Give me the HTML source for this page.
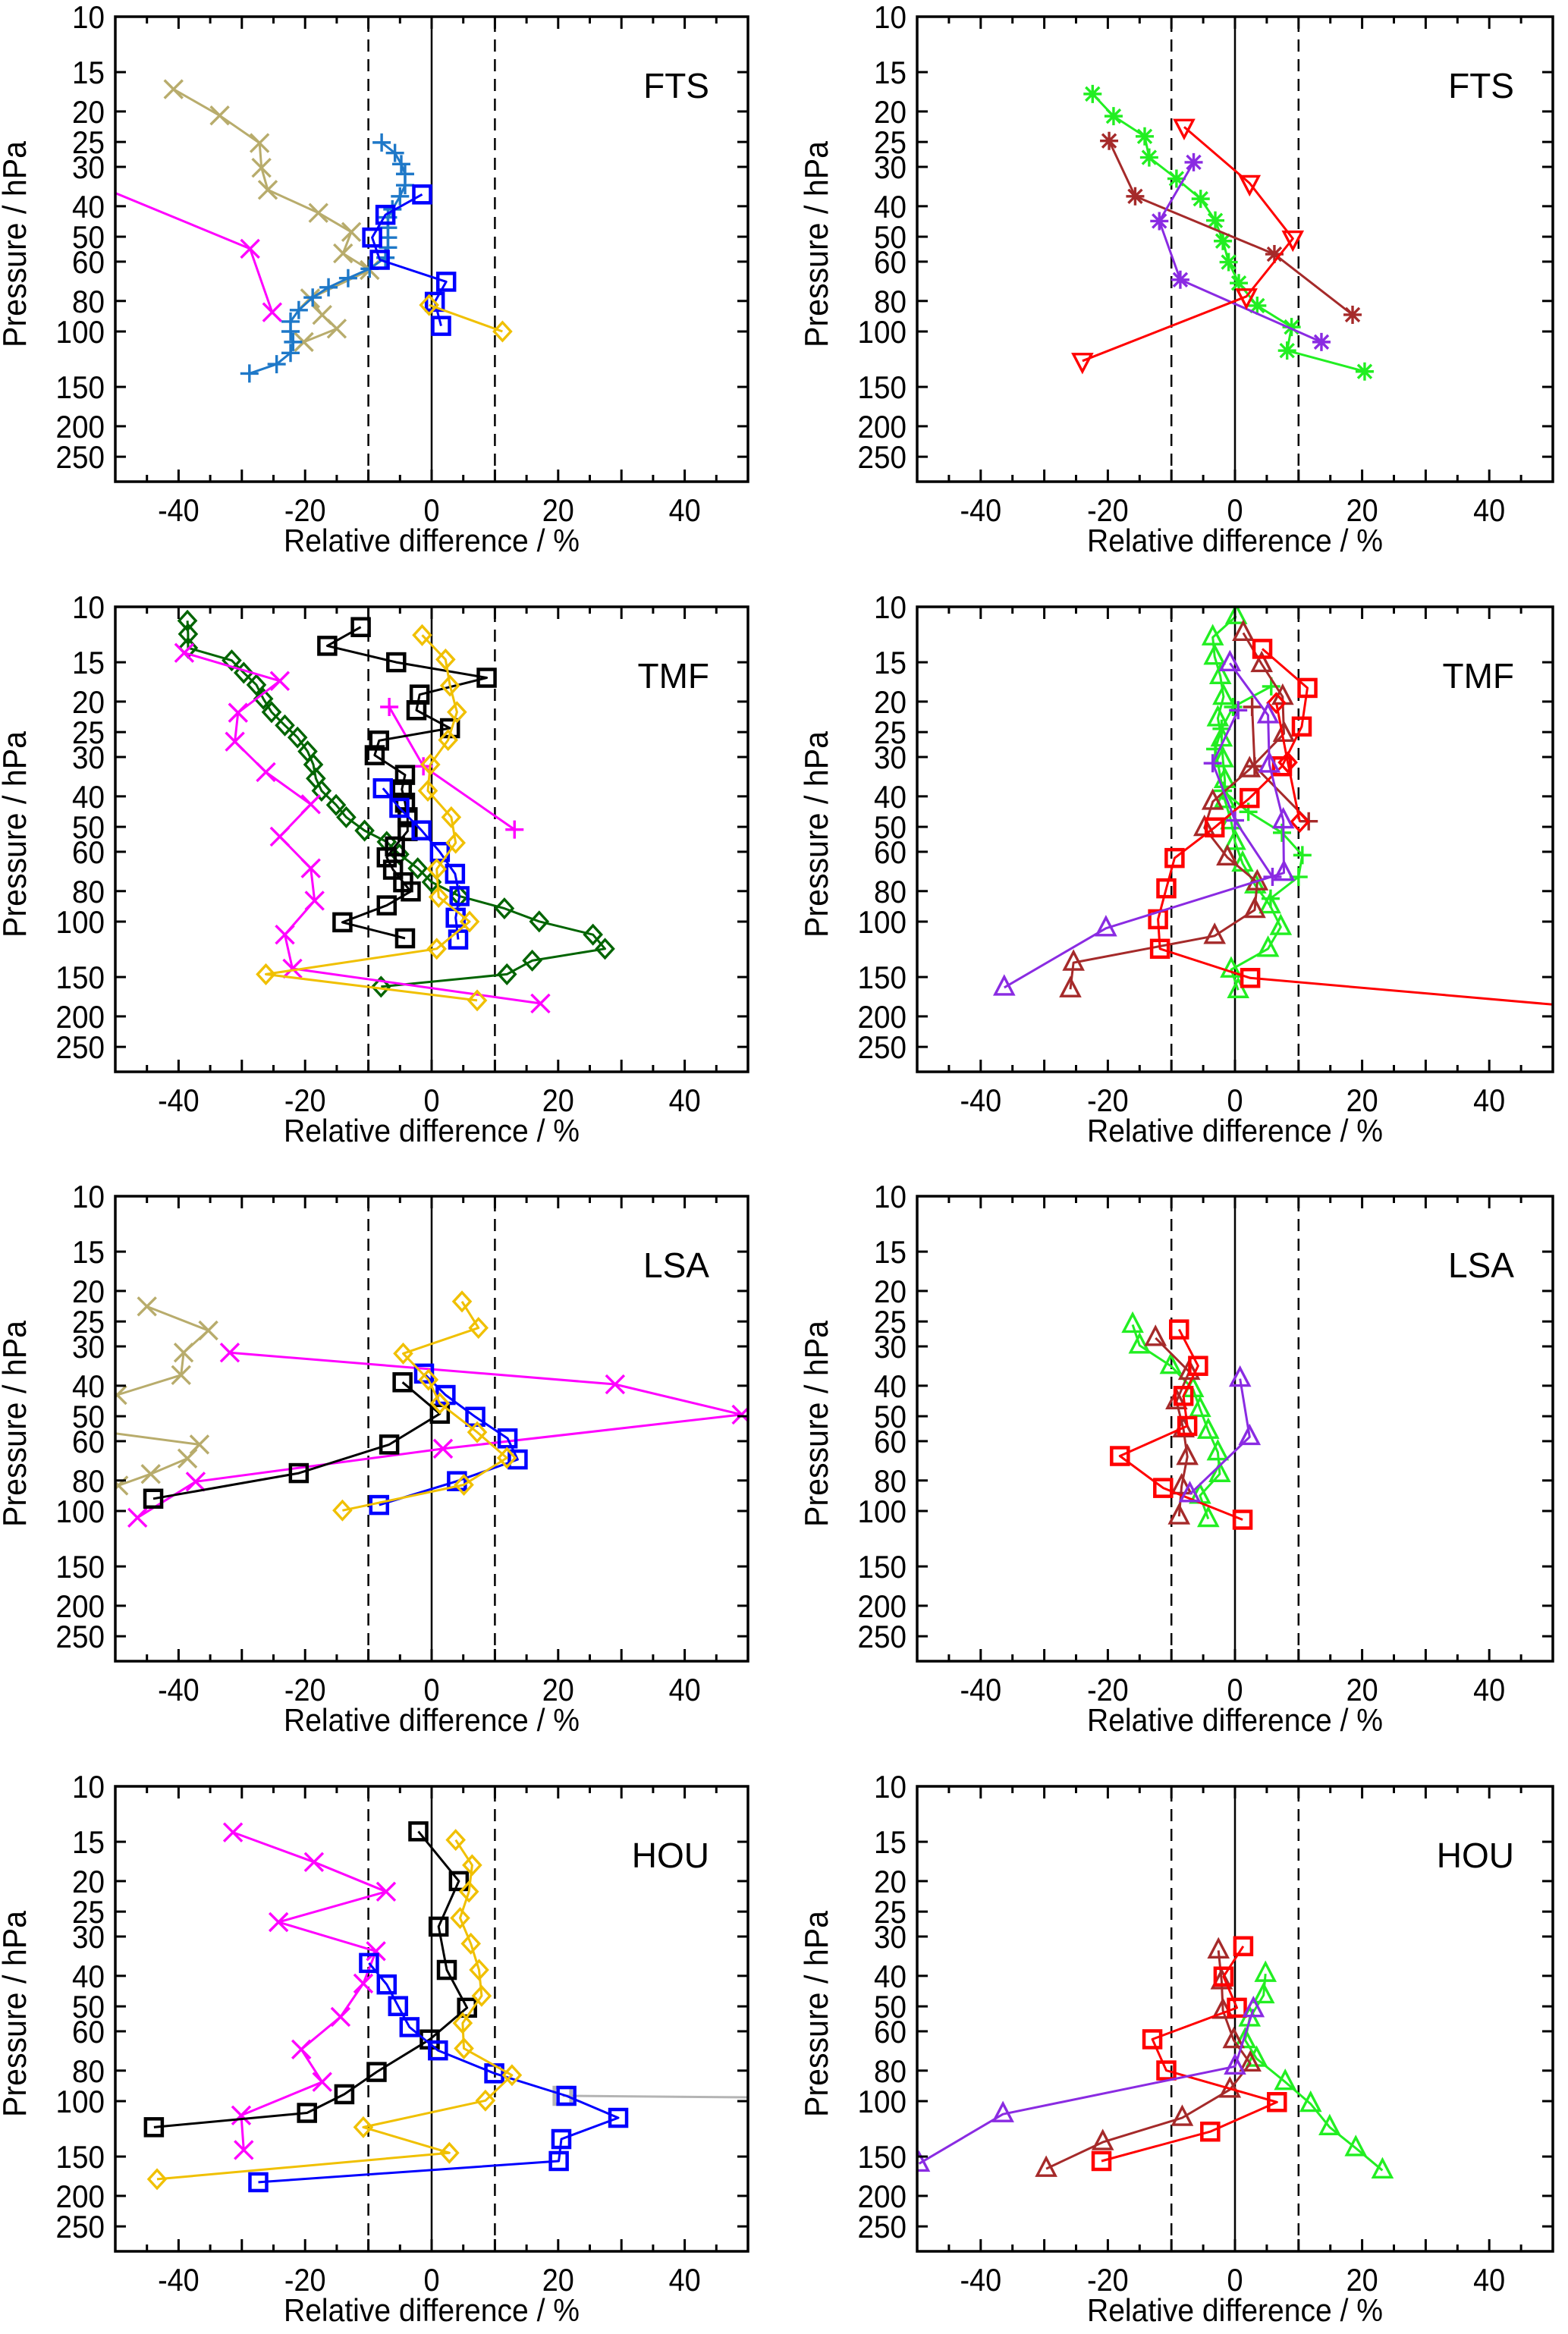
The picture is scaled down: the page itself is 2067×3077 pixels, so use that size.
<!DOCTYPE html>
<html><head><meta charset="utf-8"><style>
html,body{margin:0;padding:0;background:#fff;}
svg{display:block;font-family:"Liberation Sans",Arial,sans-serif;}
</style></head><body>
<svg id="fig" width="2067" height="3077" viewBox="0 0 2067 3077" xmlns="http://www.w3.org/2000/svg"></svg>
<script>
// ---------- data: FTS left ----------
const ftsL_tan_v=[-40.8,-33.5,-27.2,-26.9,-25.9,-17.9,-12.7,-14.0,-9.8,-19.2,-17.3,-15.0,-20.2];
const ftsL_tan_p=[17.0,20.6,25.2,30.2,35.5,42,48.3,56.5,63.8,78.5,88.6,98,108];
const ftsL_mag_v=[-60,-28.7,-25.2];
const ftsL_mag_p=[30,54.6,86.9];
const ftsL_sb_v=[-7.9,-5.8,-4.8,-4.2,-4.2,-5.0,-6.2,-6.9,-6.9,-6.9,-6.9,-7.3,-9.8,-13.2,-16.3,-18.8,-21.0,-22.3,-22.3,-21.9,-22.3,-24.5,-28.8];
const ftsL_sb_p=[25.1,27.1,29.4,31.6,34.3,37.2,40.9,43.4,46.8,50.3,54.1,58.3,63.2,67.7,72.4,78.0,85.5,93,100,108,117,127,136];
const ftsL_blue_v=[-1.5,-7.3,-9.4,-8.2,2.3,0.5,1.5];
const ftsL_blue_p=[36.7,42.6,50.3,59.2,69.5,80.5,96.0];
const ftsL_gold_v=[-0.4,11.2];
const ftsL_gold_p=[82.4,100];
// ---------- data: FTS right ----------
const ftsR_green_v=[-22.4,-19.1,-14.2,-13.5,-9.2,-5.4,-3.1,-1.9,-1.0,0.6,3.5,8.9,8.2,20.4];
const ftsR_green_p=[17.6,20.7,24.0,28.0,32.7,37.9,44.4,51.6,60.2,70.2,82.8,96.8,115,134];
const ftsR_brown_v=[-19.8,-15.7,6.2,18.5];
const ftsR_brown_p=[24.8,37.2,56.8,88.5];
const ftsR_purple_v=[-6.5,-11.9,-8.6,13.6];
const ftsR_purple_p=[29.0,44.6,68.5,108];
const ftsR_red_v=[-8.0,2.3,9.1,1.8,-24.0];
const ftsR_red_p=[22.4,33.8,50.7,77.4,124];
// ---------- data: TMF left ----------
const tmfL_dg_v=[-38.6,-38.5,-38.5,-31.6,-29.7,-27.7,-26.6,-25.3,-23.2,-21.2,-19.6,-18.7,-18.3,-17.4,-15.1,-13.5,-10.6,-7.1,-5.1,-2.2,0,4.4,11.5,17.0,25.5,27.4,15.9,11.9,-8.0];
const tmfL_dg_p=[11.07,12.2,13.5,14.8,16.2,17.7,19.6,21.6,23.8,26.0,28.8,31.7,35.1,38.4,42.6,46.6,51.4,55.8,61.1,67.7,74.9,83.0,90.8,99.9,110,122,133,147,161];
const tmfL_magx_v=[-39.1,-24.0,-30.6,-31.1,-26.2,-19.1,-24.0,-19.1,-18.5,-23.2,-22.0,17.2];
const tmfL_magx_p=[14.0,17.2,21.7,26.8,33.5,42.4,53.7,67.7,85.8,110,141,182];
const tmfL_magp_v=[-6.7,-1.3,13.1];
const tmfL_magp_p=[20.8,32.1,51.0];
const tmfL_blk_v=[-11.2,-16.5,-5.6,8.7,-1.9,-2.4,2.9,-8.3,-9.0,-4.2,-4.7,-4.2,-3.8,-3.8,-5.8,-7.1,-6.1,-4.5,-3.3,-7.1,-14.1,-4.2];
const tmfL_blk_p=[11.6,13.3,15.0,16.8,19.0,21.3,24.3,26.6,29.6,34.2,38.0,41.9,46.6,51.6,57.7,62.5,68.4,75.0,80.2,88.8,100.5,113];
const tmfL_blue_v=[-7.7,-5.1,-1.6,1.3,3.7,4.4,3.8,4.2];
const tmfL_blue_p=[37.7,43.5,51.3,60.1,70.5,83.0,97.2,114];
const tmfL_gold_v=[-1.5,2.2,2.9,4.0,2.6,-0.2,-0.6,3.1,3.8,0.8,1.1,6.0,0.8,-26.2,7.2];
const tmfL_gold_p=[12.3,14.7,17.8,21.6,26.5,31.7,38.4,46.6,56.2,68.1,83.5,100,122,147,178];
// ---------- data: TMF right ----------
const tmfR_gtri_v=[0.2,-3.5,-3.2,-2.3,-1.8,-2.7,-2.1,-1.9,-1.6,-1.6,-0.6,0,1.2,3.2,5.5,7.2,5.2,-0.6,0.5];
const tmfR_gtri_p=[10.7,12.5,14.4,16.6,19.3,22.6,26.2,30.5,35.5,41.1,48.0,55.8,65.4,76.7,88.8,104,122,142,165];
const tmfR_gplus_v=[5.7,-0.3,-2.1,-3.1,-1.9,2.1,7.4,10.6,10.0,5.6];
const tmfR_gplus_p=[17.9,20.8,24.4,28.3,38.4,44.8,52.2,61.5,72.1,84.5];
const tmfR_btri_v=[1.3,4.2,7.5,7.7,2.3,-3.5,-4.8,-1.2,3.5,3.1,-3.2,-25.4,-25.9];
const tmfR_btri_p=[12.1,15.2,19.3,25.3,32.8,41.6,50.4,62.5,75.0,91.8,111,135,164];
const tmfR_bplus_v=[2.7,3.1,11.6];
const tmfR_bplus_p=[20.8,32.1,48.0];
const tmfR_rsq_v=[4.3,11.4,10.5,7.4,2.3,-3.2,-9.5,-10.8,-12.1,-11.8,2.4,70];
const tmfR_rsq_p=[13.6,18.1,24.0,32.1,40.5,50.2,62.8,78.4,98.3,122,151,199];
const tmfR_rdia_v=[6.5,8.3,10.2];
const tmfR_rdia_p=[20.2,31.2,48.2];
const tmfR_ptri_v=[-0.8,5.2,5.4,7.6,7.7,-20.3,-36.3];
const tmfR_ptri_p=[15.1,22.1,31.7,47.7,70.0,105,162];
const tmfR_pplus_v=[0.5,-3.5,0,5.9];
const tmfR_pplus_p=[21.3,31.4,47.7,72.1];
// ---------- data: LSA left ----------
const lsaL_tan_v=[-45.0,-35.3,-39.2,-39.6,-49.7,-55,-36.7,-38.6,-44.4,-49.5];
const lsaL_tan_p=[22.4,26.7,31.4,37.0,42.8,55,61.5,68.1,76.3,83];
const lsaL_mag_v=[-31.9,29.0,49.0,1.8,-37.3,-46.5];
const lsaL_mag_p=[31.4,39.6,49.4,63.4,80.7,105];
const lsaL_blk_v=[-4.6,1.3,-6.7,-21.0,-44.0];
const lsaL_blk_p=[39.0,49.1,61.5,75.8,91.4];
const lsaL_blue_v=[-1.2,2.2,6.9,12.0,13.6,4.0,-8.3];
const lsaL_blue_p=[36.6,42.8,50.2,58.8,68.6,80.4,95.7];
const lsaL_gold_v=[4.8,7.4,-4.5,-0.5,1.3,7.2,11.9,5.1,-14.1];
const lsaL_gold_p=[21.6,26.2,31.6,38.3,45.5,56.2,67.8,82.6,99.6];
// ---------- data: LSA right ----------
const lsaR_gtri_v=[-16.1,-15.0,-10.1,-6.6,-5.5,-4.2,-2.7,-2.4,-5.5,-4.2];
const lsaR_gtri_p=[25.6,29.8,34.6,41.0,47.4,55.6,65.1,76.3,89.4,106];
const lsaR_btri_v=[-12.5,-7.2,-9.2,-8.1,-7.5,-8.4,-8.8];
const lsaR_btri_p=[28.2,36.1,44.8,55.0,67.3,83.5,104];
const lsaR_rsq_v=[-8.8,-5.8,-8.1,-7.5,-18.1,-11.3,1.2];
const lsaR_rsq_p=[26.5,34.6,43.1,53.7,66.9,84.5,106.6];
const lsaR_ptri_v=[0.8,2.3,-7.1];
const lsaR_ptri_p=[38.0,58.2,88.4];
// ---------- data: HOU left ----------
const houL_mag_v=[-31.4,-18.6,-7.2,-24.2,-8.8,-10.8,-14.4,-20.6,-17.3,-30.1,-29.7];
const houL_mag_p=[14.0,17.4,21.6,27.0,33.4,42.3,54.0,68.5,86.9,111,143];
const houL_blk_v=[-2.1,4.3,1.1,2.4,5.6,-0.3,-8.7,-13.8,-19.7,-43.9];
const houL_blk_p=[13.9,20.0,27.9,38.3,50.5,63.7,80.8,95.1,109,121];
const houL_blue_v=[-9.9,-7.1,-5.3,-3.5,1.0,9.9,21.3,29.5,20.5,20.1,-27.4];
const houL_blue_p=[36.4,42.6,49.9,58.2,69.0,81.6,96.2,113,132,155,181];
const houL_gray_v=[20.7,70];
const houL_gray_p=[96.2,98];
const houL_gold_v=[3.8,6.4,5.9,4.5,6.2,7.5,7.9,4.9,5.1,12.7,8.5,-10.8,2.8,-43.4];
const houL_gold_p=[14.8,17.8,21.6,26.2,31.6,38.3,46.3,56.5,68.0,82.7,99.6,121,146,177];
// ---------- data: HOU right ----------
const houR_gtri_v=[4.8,4.5,2.3,1.6,3.4,7.9,11.9,14.9,19.0,23.2];
const houR_gtri_p=[39.4,46.1,54.6,64.0,73.3,86.9,102,121,141,166];
const houR_btri_v=[-2.6,-2.1,-1.9,-0.2,2.4,-0.8,-8.3,-20.8,-29.7];
const houR_btri_p=[33.2,41.6,51.6,64.0,75.9,91.9,113,135,164];
const houR_rsq_v=[1.3,-1.8,0.3,-13.0,-10.8,6.6,-3.9,-21.0];
const houR_rsq_p=[32.2,40.2,50.5,63.6,79.9,100.7,125,155];
const houR_ptri_v=[2.9,0,-36.5,-49.7];
const houR_ptri_p=[51.0,77.6,110,158];
// ---------- axis ticks ----------
const yTicks=[10,15,20,25,30,40,50,60,80,100,150,200,250];
const xTickLabels=[-40,-20,0,20,40];

const C={tan:'#b8ac6c',mag:'#ff00ff',sb:'#1e78c8',blue:'#0000ff',gold:'#f0c000',green:'#22ee22',brown:'#a52a2a',purple:'#8a2be2',red:'#ff0000',dg:'#006400',blk:'#000000',gray:'#b4b4b4'};

const panels=[
 {id:'fts-left',label:'FTS',col:0,row:0,series:[
  ['tan-x',ftsL_tan_v,ftsL_tan_p,C.tan,'x'],['magenta-x',ftsL_mag_v,ftsL_mag_p,C.mag,'x'],
  ['steelblue-plus',ftsL_sb_v,ftsL_sb_p,C.sb,'plus'],['blue-square',ftsL_blue_v,ftsL_blue_p,C.blue,'sq'],
  ['gold-diamond',ftsL_gold_v,ftsL_gold_p,C.gold,'dia']]},
 {id:'fts-right',label:'FTS',col:1,row:0,series:[
  ['green-asterisk',ftsR_green_v,ftsR_green_p,C.green,'ast'],['brown-asterisk',ftsR_brown_v,ftsR_brown_p,C.brown,'ast'],
  ['purple-asterisk',ftsR_purple_v,ftsR_purple_p,C.purple,'ast'],['red-triangle-down',ftsR_red_v,ftsR_red_p,C.red,'tdown']]},
 {id:'tmf-left',label:'TMF',col:0,row:1,series:[
  ['darkgreen-diamond',tmfL_dg_v,tmfL_dg_p,C.dg,'dia'],['magenta-x',tmfL_magx_v,tmfL_magx_p,C.mag,'x'],
  ['magenta-plus',tmfL_magp_v,tmfL_magp_p,C.mag,'plus'],['black-square',tmfL_blk_v,tmfL_blk_p,C.blk,'sq'],
  ['blue-square',tmfL_blue_v,tmfL_blue_p,C.blue,'sq'],['gold-diamond',tmfL_gold_v,tmfL_gold_p,C.gold,'dia']]},
 {id:'tmf-right',label:'TMF',col:1,row:1,series:[
  ['green-triangle',tmfR_gtri_v,tmfR_gtri_p,C.green,'tri'],['green-plus',tmfR_gplus_v,tmfR_gplus_p,C.green,'plus'],
  ['brown-triangle',tmfR_btri_v,tmfR_btri_p,C.brown,'tri'],['brown-plus',tmfR_bplus_v,tmfR_bplus_p,C.brown,'plus'],
  ['red-square',tmfR_rsq_v,tmfR_rsq_p,C.red,'sq'],['red-diamond',tmfR_rdia_v,tmfR_rdia_p,C.red,'dia'],
  ['purple-triangle',tmfR_ptri_v,tmfR_ptri_p,C.purple,'tri'],['purple-plus',tmfR_pplus_v,tmfR_pplus_p,C.purple,'plus']]},
 {id:'lsa-left',label:'LSA',col:0,row:2,series:[
  ['tan-x',lsaL_tan_v,lsaL_tan_p,C.tan,'x'],['magenta-x',lsaL_mag_v,lsaL_mag_p,C.mag,'x'],
  ['black-square',lsaL_blk_v,lsaL_blk_p,C.blk,'sq'],['blue-square',lsaL_blue_v,lsaL_blue_p,C.blue,'sq'],
  ['gold-diamond',lsaL_gold_v,lsaL_gold_p,C.gold,'dia']]},
 {id:'lsa-right',label:'LSA',col:1,row:2,series:[
  ['green-triangle',lsaR_gtri_v,lsaR_gtri_p,C.green,'tri'],['brown-triangle',lsaR_btri_v,lsaR_btri_p,C.brown,'tri'],
  ['red-square',lsaR_rsq_v,lsaR_rsq_p,C.red,'sq'],['purple-triangle',lsaR_ptri_v,lsaR_ptri_p,C.purple,'tri']]},
 {id:'hou-left',label:'HOU',col:0,row:3,series:[
  ['magenta-x',houL_mag_v,houL_mag_p,C.mag,'x'],['black-square',houL_blk_v,houL_blk_p,C.blk,'sq'],
  ['gray-square',houL_gray_v,houL_gray_p,C.gray,'sq'],['blue-square',houL_blue_v,houL_blue_p,C.blue,'sq'],
  ['gold-diamond',houL_gold_v,houL_gold_p,C.gold,'dia']]},
 {id:'hou-right',label:'HOU',col:1,row:3,series:[
  ['green-triangle',houR_gtri_v,houR_gtri_p,C.green,'tri'],['brown-triangle',houR_btri_v,houR_btri_p,C.brown,'tri'],
  ['red-square',houR_rsq_v,houR_rsq_p,C.red,'sq'],['purple-triangle',houR_ptri_v,houR_ptri_p,C.purple,'tri']]}
];

const NS='http://www.w3.org/2000/svg';
const svg=document.getElementById('fig');
function mk(tag,attrs,parent){const e=document.createElementNS(NS,tag);for(const k in attrs)e.setAttribute(k,attrs[k]);(parent||svg).appendChild(e);return e;}
const COLX=[[152,986],[1209,2047]];
const ROWY=[22,800,1577,2355];
const PH=613, DEC=PH/Math.log10(30);

function marker(g,t,x,y,c){
  let e;
  if(t==='sq'){e=mk('rect',{x:x-11,y:y-11,width:22,height:22,fill:'none',stroke:c,'stroke-width':4.5},g);}
  else if(t==='dia'){e=mk('polygon',{points:`${x},${y-12} ${x+11},${y} ${x},${y+12} ${x-11},${y}`,fill:'none',stroke:c,'stroke-width':3.4},g);}
  else if(t==='tri'){e=mk('polygon',{points:`${x},${y-14} ${x+12},${y+9} ${x-12},${y+9}`,fill:'none',stroke:c,'stroke-width':3.4},g);}
  else if(t==='tdown'){e=mk('polygon',{points:`${x},${y+14} ${x+12},${y-9} ${x-12},${y-9}`,fill:'none',stroke:c,'stroke-width':3.4},g);}
  else if(t==='x'){e=mk('path',{d:`M${x-12},${y-12}L${x+12},${y+12}M${x-12},${y+12}L${x+12},${y-12}`,stroke:c,'stroke-width':3.4,fill:'none'},g);}
  else if(t==='plus'){e=mk('path',{d:`M${x-12},${y}L${x+12},${y}M${x},${y-12}L${x},${y+12}`,stroke:c,'stroke-width':3.4,fill:'none'},g);}
  else {e=mk('path',{d:`M${x-12},${y}L${x+12},${y}M${x},${y-12}L${x},${y+12}M${x-9},${y-9}L${x+9},${y+9}M${x-9},${y+9}L${x+9},${y-9}`,stroke:c,'stroke-width':3.4,fill:'none'},g);}
  
  
}

panels.forEach((P,pi)=>{
  const x0=COLX[P.col][0],x1=COLX[P.col][1],y0=ROWY[P.row],y1=y0+PH;
  const xs=v=>x0+(v+50)/100*(x1-x0);
  const ys=p=>y0+DEC*Math.log10(p/10);
  const g=mk('g',{});
  
  
  const cp=mk('clipPath',{id:'cp'+pi},g);
  mk('rect',{x:x0,y:y0,width:x1-x0,height:PH},cp);
  const rl=mk('g',{},g);
  
  
  mk('line',{x1:xs(0),x2:xs(0),y1:y0,y2:y1,stroke:'#000','stroke-width':2.5},rl);
  [-10,10].forEach(v=>mk('line',{x1:xs(v),x2:xs(v),y1:y0+4,y2:y1,stroke:'#000','stroke-width':2.5,'stroke-dasharray':'16 10'},rl));
  const sg=mk('g',{'clip-path':`url(#cp${pi})`},g);
  P.series.forEach(S=>{
    const [nm,vals,pres,col,mt]=S;
    const s=mk('g',{},sg);
    
    
    const pts=vals.map((v,i)=>xs(v).toFixed(1)+','+ys(pres[i]).toFixed(1)).join(' ');
    const pl=mk('polyline',{points:pts,fill:'none',stroke:col,'stroke-width':3,'stroke-linejoin':'round'},s);
    
    
    vals.forEach((v,i)=>marker(s,mt,xs(v),ys(pres[i]),col));
  });
  const fr=mk('rect',{x:x0,y:y0,width:x1-x0,height:PH,fill:'none',stroke:'#000','stroke-width':3.5},g);
  
  
  const xa=mk('g',{},g);
  
  
  for(let v=-45;v<=45;v+=5){
    const L=(v%10===0)?16:9, x=xs(v);
    mk('line',{x1:x,x2:x,y1:y1,y2:y1-L,stroke:'#000','stroke-width':3},xa);
    mk('line',{x1:x,x2:x,y1:y0,y2:y0+L,stroke:'#000','stroke-width':3},xa);
  }
  xTickLabels.forEach(v=>{
    const x=xs(v), y=y1+52;
    const t=mk('text',{x:x,y:y,'text-anchor':'middle','font-size':42,transform:`translate(${x} ${y}) scale(0.9 1) translate(${-x} ${-y})`},xa);
    t.textContent=String(v);
    
    
  });
  const xt=mk('text',{x:(x0+x1)/2,y:y1+92,'text-anchor':'middle','font-size':42,textLength:390,lengthAdjust:'spacingAndGlyphs'},xa);
  xt.textContent='Relative difference / %';
  
  
  const ya=mk('g',{},g);
  
  
  yTicks.forEach(p=>{
    const y=ys(p);
    mk('line',{x1:x0,x2:x0+14,y1:y,y2:y,stroke:'#000','stroke-width':3},ya);
    mk('line',{x1:x1,x2:x1-14,y1:y,y2:y,stroke:'#000','stroke-width':3},ya);
    const tx=x0-14, ty=y+15;
    const t=mk('text',{x:tx,y:ty,'text-anchor':'end','font-size':42,transform:`translate(${tx} ${ty}) scale(0.92 1) translate(${-tx} ${-ty})`},ya);
    t.textContent=String(p);
    
    
  });
  const cx=x0-118, cy=y0+300;
  const yt=mk('text',{x:cx,y:cy,'text-anchor':'middle','font-size':44,transform:`rotate(-90 ${cx} ${cy})`,textLength:272,lengthAdjust:'spacingAndGlyphs'},ya);
  yt.textContent='Pressure / hPa';
  
  
  const lb=mk('text',{x:x1-51,y:y0+107,'text-anchor':'end','font-size':46},g);
  lb.textContent=P.label;
  
  
});
</script>
</body></html>
